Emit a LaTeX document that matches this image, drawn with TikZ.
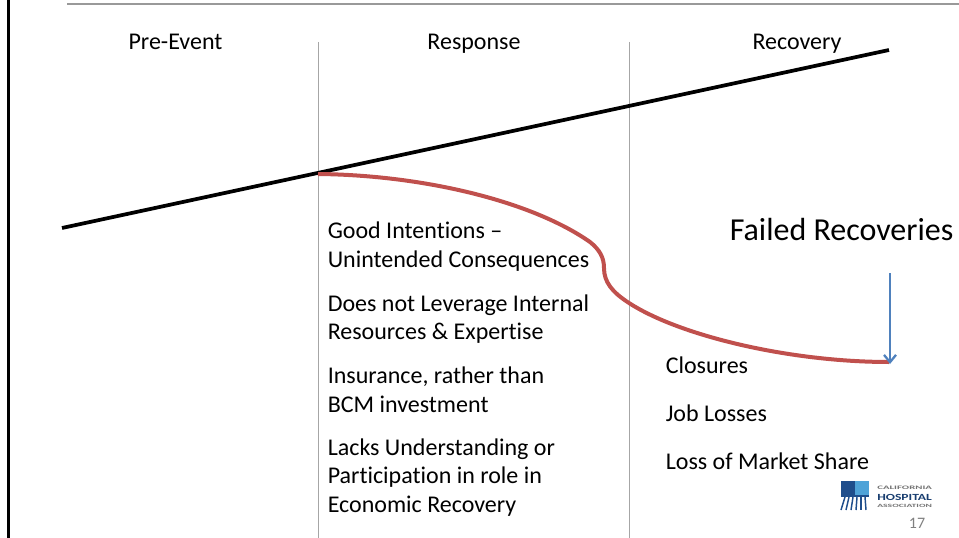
\documentclass[tikz,border=0pt]{standalone}
\usepackage{fontspec}
\usepackage{graphicx}
\usetikzlibrary{arrows.meta}
\setmainfont[Ligatures=CommonOff]{Carlito}
\definecolor{redline}{HTML}{C0504D}
\definecolor{blueline}{HTML}{4F81BD}
\definecolor{divline}{HTML}{A6A6A6}
\definecolor{logodark}{HTML}{1F4E8C}
\definecolor{logolight}{HTML}{4FA3D8}
\tikzset{
  lbl/.style={inner sep=0pt,anchor=west,font=\fontsize{18pt}{21.4pt}\selectfont,text=black,align=left},
  hdr/.style={inner sep=0pt,anchor=base,font=\fontsize{18pt}{21.4pt}\selectfont,text=black},
  divider/.style={draw=divline,line width=0.75pt},
  logotext/.style={inner sep=0pt,anchor=west,font=\bfseries}
}
\begin{document}
\begin{tikzpicture}[x=0.75pt,y=-0.75pt]
\useasboundingbox (0,0) rectangle (959,538);
\coordinate (frameT) at (8.7,0); \coordinate (frameB) at (8.7,538);
\draw[black,line width=2pt] (frameT) -- (frameB);
\coordinate (ruleL) at (67,4); \coordinate (ruleR) at (959,4);
\draw[color=gray!80,line width=1.6pt] (ruleL) -- (ruleR);
\coordinate (d1T) at (318,42); \coordinate (d1B) at (318,538);
\coordinate (d2T) at (629.5,42); \coordinate (d2B) at (629.5,538);
\draw[divider] (d1T) -- (d1B);
\draw[divider] (d2T) -- (d2B);
\node[hdr] (pre) at (175.5,49.5) {Pre-Event};
\node[hdr] (resp) at (474,49.5) {Response};
\node[hdr] (rec) at (797,49.5) {Recovery};
\coordinate (trendL) at (62,228); \coordinate (trendR) at (889,50);
\draw[black,line width=2.8pt] (trendL) -- (trendR);
\coordinate (failS) at (318,174); \coordinate (failE) at (889,362);
\draw[redline,line width=3pt] (failS) .. controls (420,175) and (530,200) .. (590,242)
  .. controls (600,250) and (604,258) .. (604,268)
  .. controls (604,282) and (612,292) .. (629,303)
  .. controls (680,336) and (790,362) .. (failE);
\coordinate (arrS) at (890,273); \coordinate (arrE) at (890,364);
\draw[blueline,line width=1.7pt,-{Straight Barb[length=5.5pt,width=9pt]}] (arrS) -- (arrE);
\node[lbl] (a1) at (327.5,246.5) {Good Intentions --\\Unintended Consequences};
\node[lbl] (a2) at (327.5,319) {Does not Leverage Internal\\Resources \& Expertise};
\node[lbl] (a3) at (327.5,390) {Insurance, rather than\\BCM investment};
\node[lbl] (a4) at (327.5,477.5) {Lacks Understanding or\\Participation in role in\\Economic Recovery};
\node[lbl] (b1) at (665.5,365.5) {Closures};
\node[lbl] (b2) at (665.5,413.5) {Job Losses};
\node[lbl] (b3) at (665.5,461) {Loss of Market Share};
\node[inner sep=0pt,anchor=west,font=\fontsize{24pt}{28pt}\selectfont] (fail) at (729.5,230) {Failed Recoveries};
% logo
\fill[logodark] (841,481) rectangle (855,495);
\fill[logolight] (855,481) rectangle (869,495);
\fill[logodark] (841,495) rectangle (869,497);
\foreach \i in {0,1,2,3,4,5}{\draw[logodark,line width=1.1pt] (845+\i*4,497) -- (841+\i*5,510);}
\node[logotext,text=black!55] (lg1) at (877,487.5) {\resizebox{41pt}{2.6pt}{CALIFORNIA}};
\node[logotext,text=logodark!80!black] (lg2) at (877,497) {\resizebox{41pt}{4.6pt}{HOSPITAL}};
\node[logotext,text=black!55] (lg3) at (877,506) {\resizebox{41pt}{2.4pt}{ASSOCIATION}};
\node[inner sep=0pt,font=\fontsize{12pt}{14pt}\selectfont,text=gray] (pg) at (917,523) {17};
\end{tikzpicture}
\end{document}
